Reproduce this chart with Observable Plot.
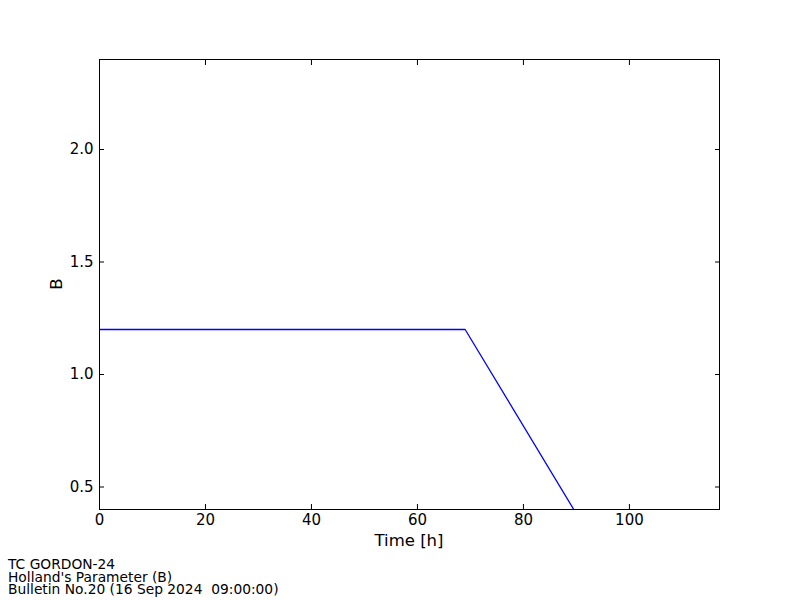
<!DOCTYPE html>
<html>
<head>
<meta charset="utf-8">
<script src="https://cdn.jsdelivr.net/npm/d3@7"></script>
<script src="https://cdn.jsdelivr.net/npm/@observablehq/plot@0.6"></script>
<style>
  html, body { margin: 0; padding: 0; background: #fff; }
  #wrap { position: relative; width: 800px; height: 600px; font-family: "DejaVu Sans", sans-serif; }
  #caption { position: absolute; left: 8px; top: 558px; font-size: 13.8px; line-height: 12.5px; color: #000; white-space: pre; }
</style>
</head>
<body>
<div id="wrap"><div id="chart"></div><div id="caption"></div></div>
<script>
const timeH = [0, 69, 89.5];
const hollandB = [1.2, 1.2, 0.4];
const xTicks = [0, 20, 40, 60, 80, 100];
const yTicks = [0.5, 1.0, 1.5, 2.0];
const captionLines = ["TC GORDON-24", "Holland's Parameter (B)", "Bulletin No.20 (16 Sep 2024  09:00:00)"];

const data = timeH.map((t, i) => ({t, b: hollandB[i]}));

const chart = Plot.plot({
  width: 800,
  height: 600,
  marginLeft: 99,
  marginRight: 81,
  marginTop: 59,
  marginBottom: 91,
  style: {fontFamily: "DejaVu Sans, sans-serif", fontSize: "15px", background: "#fff", color: "#000"},
  x: {domain: [0, 117]},
  y: {domain: [0.4, 2.4]},
  marks: [
    Plot.line(data, {x: "t", y: "b", stroke: "#0000ff", strokeWidth: 1.3, clip: true}),
    Plot.axisX({anchor: "bottom", ticks: xTicks, tickSize: 0, tickPadding: 5, label: null, fontSize: 15}),
    Plot.axisX({anchor: "bottom", ticks: xTicks, tickSize: -5, tickFormat: () => "", label: null}),
    Plot.axisX({anchor: "top", ticks: xTicks, tickSize: -5, tickFormat: () => "", label: null}),
    Plot.axisY({anchor: "left", ticks: yTicks, tickSize: 0, tickPadding: 6, tickFormat: d3.format(".1f"), label: null, fontSize: 15}),
    Plot.axisY({anchor: "left", ticks: yTicks, tickSize: -5, tickFormat: () => "", label: null}),
    Plot.axisY({anchor: "right", ticks: yTicks, tickSize: -5, tickFormat: () => "", label: null}),
    Plot.frame({stroke: "#000", strokeWidth: 1})
  ]
});

const svg = d3.select(chart);
// axis titles
svg.append("text").attr("x", 409).attr("y", 546).attr("text-anchor", "middle")
  .attr("font-size", 16.5).attr("font-family", "DejaVu Sans, sans-serif").text("Time [h]");
svg.append("text").attr("transform", "translate(62,284) rotate(-90)").attr("text-anchor", "middle")
  .attr("font-size", 16.5).attr("font-family", "DejaVu Sans, sans-serif").text("B");

document.getElementById("chart").appendChild(chart);
document.getElementById("caption").textContent = captionLines.join("\n");
</script>
</body>
</html>
